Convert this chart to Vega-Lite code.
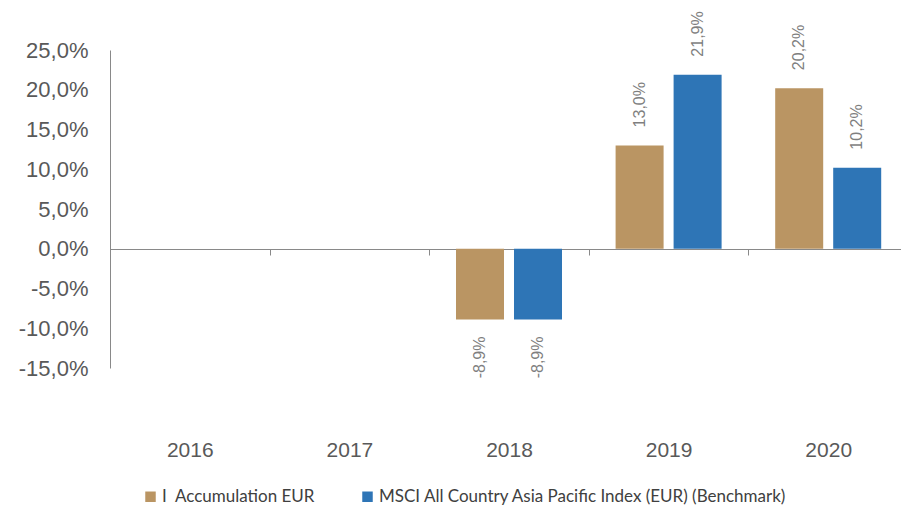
{
  "$schema": "https://vega.github.io/schema/vega-lite/v6.json",
  "width": 798,
  "height": 318,
  "autosize": {"type": "none"},
  "padding": {"left": 110, "top": 50, "right": -7, "bottom": 138},
  "background": "white",
  "config": {
    "locale": {"number": {"decimal": ",", "thousands": ".", "grouping": [3], "currency": ["", " €"], "minus": "-"}},
    "view": {"stroke": null},
    "font": "Liberation Sans"
  },
  "data": {
    "values": [
      {"year": "2018", "series": "I\u00a0 Accumulation EUR", "value": -0.089},
      {"year": "2018", "series": "MSCI All Country Asia Pacific Index (EUR) (Benchmark)", "value": -0.089},
      {"year": "2019", "series": "I\u00a0 Accumulation EUR", "value": 0.130},
      {"year": "2019", "series": "MSCI All Country Asia Pacific Index (EUR) (Benchmark)", "value": 0.219},
      {"year": "2020", "series": "I\u00a0 Accumulation EUR", "value": 0.202},
      {"year": "2020", "series": "MSCI All Country Asia Pacific Index (EUR) (Benchmark)", "value": 0.102}
    ]
  },
  "encoding": {
    "x": {
      "field": "year", "type": "nominal",
      "scale": {"domain": ["2016", "2017", "2018", "2019", "2020"], "paddingInner": 0, "paddingOuter": 0},
      "axis": {
        "title": null, "orient": "bottom", "offset": -119, "labelAngle": 0,
        "domainColor": "#898989", "domainWidth": 1, "tickColor": "#898989", "tickSize": 6, "tickBand": "extent",
        "labelPadding": 184, "labelFontSize": 21, "labelColor": "#595959", "labelFont": "Liberation Sans"
      }
    },
    "xOffset": {
      "field": "series", "type": "nominal",
      "scale": {"domain": ["I\u00a0 Accumulation EUR", "MSCI All Country Asia Pacific Index (EUR) (Benchmark)"], "paddingInner": 0.1724, "paddingOuter": 0.462}
    },
    "y": {
      "field": "value", "type": "quantitative",
      "scale": {"domain": [-0.15, 0.25], "nice": false, "zero": false},
      "axis": {
        "title": null, "values": [-0.15, -0.1, -0.05, 0, 0.05, 0.1, 0.15, 0.2, 0.25], "format": ".1%",
        "grid": false, "ticks": false, "domainColor": "#898989", "domainWidth": 1,
        "labelPadding": 22, "labelFontSize": 22, "labelColor": "#595959", "labelFont": "Liberation Sans"
      }
    }
  },
  "layer": [
    {
      "mark": {"type": "bar"},
      "encoding": {
        "color": {
          "field": "series", "type": "nominal",
          "scale": {"domain": ["I\u00a0 Accumulation EUR", "MSCI All Country Asia Pacific Index (EUR) (Benchmark)"], "range": ["#BA9563", "#2E75B6"]},
          "legend": {
            "orient": "none", "legendX": 32, "legendY": 438, "direction": "horizontal", "title": null,
            "symbolType": "square", "symbolSize": 110, "symbolStrokeWidth": 0, "labelOffset": 3,
            "labelFontSize": 17, "labelFont": "Lato", "labelColor": "#404040", "columnPadding": 43, "labelLimit": 600
          }
        }
      }
    },
    {
      "transform": [{"filter": "datum.value >= 0"}],
      "mark": {"type": "text", "angle": -90, "align": "left", "baseline": "middle", "dx": 18, "fontSize": 16, "color": "#7f7f7f", "font": "Liberation Sans"},
      "encoding": {"text": {"field": "value", "type": "quantitative", "format": ".1%"}}
    },
    {
      "transform": [{"filter": "datum.value < 0"}],
      "mark": {"type": "text", "angle": -90, "align": "right", "baseline": "middle", "dx": -17, "fontSize": 16, "color": "#7f7f7f", "font": "Liberation Sans"},
      "encoding": {"text": {"field": "value", "type": "quantitative", "format": ".1%"}}
    }
  ]
}
